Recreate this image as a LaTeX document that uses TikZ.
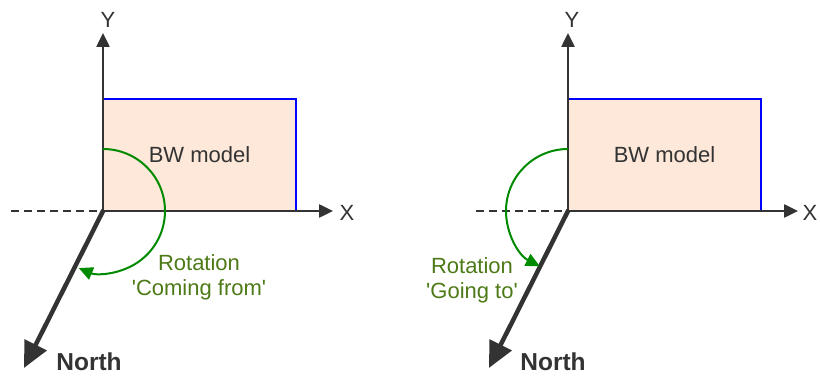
\documentclass[tikz,border=0pt]{standalone}
\usepackage{fontspec}
\setmainfont{Liberation Sans}
\usetikzlibrary{arrows.meta}
\definecolor{axisgray}{HTML}{333333}
\definecolor{peach}{HTML}{FDE8D9}
\definecolor{modelblue}{HTML}{0000FF}
\definecolor{arcgreen}{HTML}{008A00}
\definecolor{textgreen}{HTML}{4D7A17}
\tikzset{
  axis/.style={draw=axisgray, line width=2.5pt, -{Triangle[length=14pt,width=13pt]}},
  northaxis/.style={draw=axisgray, line width=4.5pt, -{Triangle[length=26pt,width=24pt]}},
  dashaxis/.style={draw=axisgray, line width=2pt, dash pattern=on 8pt off 5pt},
  model/.style={fill=peach, draw=none, minimum width=193pt, minimum height=112pt, inner sep=0pt, font=\fontsize{22}{25}\selectfont, text=axisgray},
  modelborder/.style={draw=modelblue, line width=2pt},
  lbl/.style={font=\fontsize{22}{25}\selectfont, text=axisgray, inner sep=0pt},
  northlbl/.style={font=\bfseries\fontsize{24.5}{27}\selectfont, text=axisgray, inner sep=0pt},
  rotlbl/.style={font=\fontsize{22}{25}\selectfont, text=textgreen, align=center, inner sep=0pt},
  rotarc/.style={draw=arcgreen, line width=2pt, -{Triangle[length=14pt,width=13pt]}},
}
\begin{document}
\begin{tikzpicture}[x=1pt,y=1pt]
\useasboundingbox (0,0) rectangle (820,378);
% ---------- left diagram ----------
\coordinate (O1) at (103,167);
\node[model] (m1) at (199.5,223) {BW model};
\draw[modelborder] (m1.north west) -- (m1.north east) -- (m1.south east);
\coordinate (D1) at (11,167);
\draw[dashaxis] (D1) -- (O1);
\coordinate (Y1) at (103,345);
\coordinate (X1) at (333,167);
\coordinate (N1) at (24,10);
\draw[axis] (O1) -- (Y1);
\draw[axis] (O1) -- (X1);
\draw[northaxis, shorten <=-1pt] (O1) -- (N1);
\node[lbl] (ly1) at (108,358) {Y};
\node[lbl] (lx1) at (347,165) {X};
\node[northlbl] (ln1) at (89,16) {North};
\draw[rotarc] ([yshift=62pt]O1) arc[start angle=90, end angle=-113, radius=62pt];
\node[rotlbl] (r1) at (199,101) {Rotation\\\textquotesingle Coming from\textquotesingle};
% ---------- right diagram ----------
\coordinate (O2) at (568,167);
\node[model] (m2) at (664.5,223) {BW model};
\draw[modelborder] (m2.north west) -- (m2.north east) -- (m2.south east);
\coordinate (D2) at (476,167);
\draw[dashaxis] (D2) -- (O2);
\coordinate (Y2) at (568,345);
\coordinate (X2) at (798,167);
\coordinate (N2) at (489,10);
\draw[axis] (O2) -- (Y2);
\draw[axis] (O2) -- (X2);
\draw[northaxis, shorten <=-1pt] (O2) -- (N2);
\node[lbl] (ly2) at (572,358) {Y};
\node[lbl] (lx2) at (810,165) {X};
\node[northlbl] (ln2) at (553,16) {North};
\draw[rotarc] ([yshift=62pt]O2) arc[start angle=90, end angle=243, radius=62pt];
\node[rotlbl] (r2) at (472,98) {Rotation\\\textquotesingle Going to\textquotesingle};
\end{tikzpicture}
\end{document}
